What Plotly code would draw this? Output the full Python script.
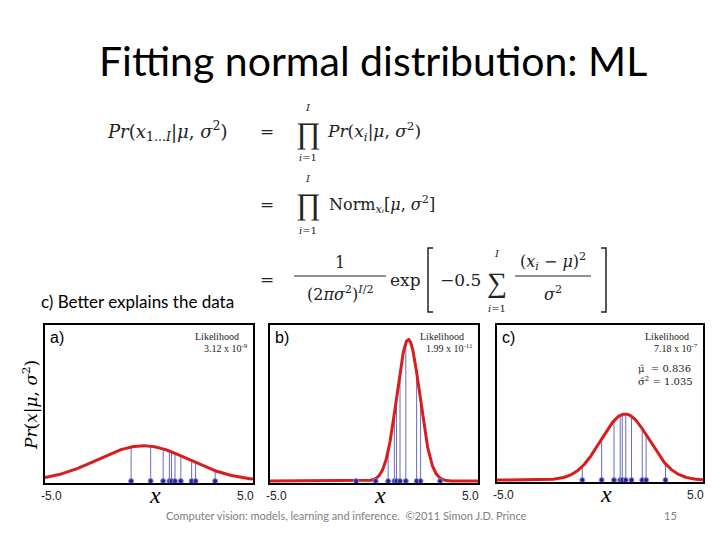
import numpy as np
import plotly.graph_objects as go

# data points (same 10 samples in every panel)
data_x = [-0.86, 0.08, 0.68, 0.98, 1.08, 1.25, 1.53, 2.05, 2.24, 3.18]

# normal curves per panel: a) b) c)
panel_names = ['a)', 'b)', 'c)']
curve_mu = [-0.27, 1.65, 1.22]
curve_sigma = [2.2, 0.55, 1.17]
likelihood_txt = ['3.12 x 10<sup>-9</sup>', '1.99 x 10<sup>-11</sup>', '7.18 x 10<sup>-7</sup>']
x_tick_text = ['-5.0', '5.0']

W, H = 720, 540
SERIF = 'Liberation Serif'
MATH = 'DejaVu Serif'
SANS = 'Liberation Sans'
SLIDE = 'Lato'

# panel pixel boxes (left, right, top, bottom)
boxes = [(45, 253, 325, 483), (270, 478, 325, 483), (497, 703, 325, 482)]


def px(x, y):
    return x / W, 1 - y / H


def pdf(x, mu, s):
    return np.exp(-0.5 * ((x - mu) / s) ** 2) / (np.sqrt(2 * np.pi) * s)


fig = go.Figure()
xs = np.linspace(-5, 5, 501)
annotations = []
shapes = []

for k in range(3):
    ax = '' if k == 0 else str(k + 1)
    xa, ya = 'x' + ax, 'y' + ax
    mu, s = curve_mu[k], curve_sigma[k]

    # stems
    sx, sy = [], []
    for d in data_x:
        sx += [d, d, None]
        sy += [0, pdf(d, mu, s), None]
    fig.add_trace(go.Scatter(x=sx, y=sy, mode='lines', line=dict(color='#6b6bbf', width=1),
                             xaxis=xa, yaxis=ya, showlegend=False, hoverinfo='skip'))
    # curve
    fig.add_trace(go.Scatter(x=xs, y=pdf(xs, mu, s), mode='lines', line=dict(color='#d91c1c', width=3),
                             xaxis=xa, yaxis=ya, showlegend=False))
    # data points
    fig.add_trace(go.Scatter(x=data_x, y=[0] * len(data_x), mode='markers', cliponaxis=False,
                             marker=dict(size=5, color='#24249a', line=dict(color='#8c8cd9', width=1)),
                             xaxis=xa, yaxis=ya, showlegend=False))

    l, r, t, b = boxes[k]
    axstyle = dict(showgrid=False, zeroline=False, showline=True, mirror=True, linecolor='black',
                   linewidth=2, ticks='', showticklabels=False)
    fig.layout['xaxis' + ax] = dict(domain=[l / W, r / W], range=[-5, 5], anchor=ya, **axstyle)
    fig.layout['yaxis' + ax] = dict(domain=[1 - b / H, 1 - t / H], range=[-0.01, 0.80], anchor=xa, **axstyle)

    # tick labels under the panel ends
    annotations.append(dict(x=0, y=0, xref=xa + ' domain', yref=ya + ' domain', text=x_tick_text[0],
                            xanchor='left', yanchor='top', xshift=-6, yshift=-4, showarrow=False,
                            font=dict(family=SANS, size=12, color='#222')))
    annotations.append(dict(x=1, y=0, xref=xa + ' domain', yref=ya + ' domain', text=x_tick_text[1],
                            xanchor='right', yanchor='top', xshift=3, yshift=-4, showarrow=False,
                            font=dict(family=SANS, size=12, color='#222')))
    # x label
    annotations.append(dict(x=0.53, y=0, xref=xa + ' domain', yref=ya + ' domain', text='<i>x</i>',
                            xanchor='center', yanchor='top', yshift=3, showarrow=False,
                            font=dict(family=SERIF, size=24, color='black')))
    # panel name
    annotations.append(dict(x=0, y=1, xref=xa + ' domain', yref=ya + ' domain', text=panel_names[k],
                            xanchor='left', yanchor='top', xshift=3, yshift=-2, showarrow=False,
                            font=dict(family=SANS, size=16, color='black')))
    # likelihood
    annotations.append(dict(x=1, y=1, xref=xa + ' domain', yref=ya + ' domain', text='Likelihood',
                            xanchor='right', yanchor='top', xshift=-12, yshift=-4, showarrow=False,
                            font=dict(family=SERIF, size=10, color='#222')))
    annotations.append(dict(x=1, y=1, xref=xa + ' domain', yref=ya + ' domain', text=likelihood_txt[k],
                            xanchor='right', yanchor='top', xshift=-3, yshift=-15, showarrow=False,
                            font=dict(family=SERIF, size=10, color='#222')))

annotations.append(dict(x=1, y=1, xref='x3 domain', yref='y3 domain',
                        text='μ̂  = 0.836<br>σ̂<sup>2</sup> = 1.035',
                        xanchor='right', yanchor='top', xshift=-8, yshift=-36, showarrow=False, align='left',
                        font=dict(family=MATH, size=10, color='#222')))


def txt(x, y, text, size, family=MATH, anchor='center', color='black', angle=0):
    fx, fy = px(x, y)
    annotations.append(dict(x=fx, y=fy, xref='paper', yref='paper', text=text, xanchor=anchor,
                            yanchor='middle', showarrow=False, textangle=angle,
                            font=dict(family=family, size=size, color=color)))


# title and slide text
txt(373, 60, 'Fitting normal distribution: ML', 41, SLIDE)
txt(39, 301, 'c) Better explains the data', 17, SLIDE, anchor='left')
txt(346, 515, 'Computer vision: models, learning and inference.  ©2011 Simon J.D. Prince', 11, SLIDE, color='#808080')
txt(670, 515, '15', 11, SLIDE, color='#808080')
txt(30, 405, '<i>Pr</i>(<i>x</i>|<i>μ</i>, <i>σ</i><sup>2</sup>)', 17, angle=-90)

# equations
eq = '#222'
txt(105, 131, '<i>Pr</i>(<i>x</i><sub>1...<i>I</i></sub>|<i>μ</i>, <i>σ</i><sup>2</sup>)', 18, anchor='left', color=eq)
for yy in (131, 204, 279):
    txt(267, yy, '=', 17, color=eq)
for yy, top, bot in ((133, 108, 158), (204, 178, 230)):
    txt(308, yy, '∏', 30, SERIF, color=eq)
    txt(308, top, '<i>I</i>', 10, color=eq)
    txt(308, bot, '<i>i</i>=1', 10, color=eq)
txt(325, 131, '<i>Pr</i>(<i>x<sub>i</sub></i>|<i>μ</i>, <i>σ</i><sup>2</sup>)', 17, anchor='left', color=eq)
txt(327, 204, 'Norm<sub><i>xᵢ</i></sub>[<i>μ</i>, <i>σ</i><sup>2</sup>]', 16, anchor='left', color=eq)

txt(340, 262, '1', 16, color=eq)
txt(340, 293, '(2<i>πσ</i><sup>2</sup>)<sup><i>I</i>/2</sup>', 16, color=eq)
txt(405, 280, 'exp', 17, color=eq)
txt(461, 280, '−0.5', 17, color=eq)
txt(497, 282, '∑', 28, SERIF, color=eq)
txt(497, 253, '<i>I</i>', 10, color=eq)
txt(497, 308, '<i>i</i>=1', 10, color=eq)
txt(553, 261, '(<i>x<sub>i</sub></i> − <i>μ</i>)<sup>2</sup>', 16, color=eq)
txt(553, 293, '<i>σ</i><sup>2</sup>', 16, color=eq)

for x0, x1 in ((294, 386), (515, 591)):
    a, b_ = px(x0, 276)
    c, _ = px(x1, 276)
    shapes.append(dict(type='line', xref='paper', yref='paper', x0=a, x1=c, y0=b_, y1=b_,
                       line=dict(color=eq, width=1)))
# brackets
for xb, d in ((428, 1), (606, -1)):
    x0, y0 = px(xb, 248)
    x1, y1 = px(xb + 5 * d, 312)
    shapes.append(dict(type='path', xref='paper', yref='paper',
                       path=f'M {x1} {y0} L {x0} {y0} L {x0} {y1} L {x1} {y1}',
                       line=dict(color=eq, width=1.5)))

fig.update_layout(width=W, height=H, margin=dict(l=0, r=0, t=0, b=0),
                  paper_bgcolor='white', plot_bgcolor='white',
                  annotations=annotations, shapes=shapes)

# drop the default body margin so the figure sits at the page corner
fig.write_html("out.html", config={'displayModeBar': False},
               post_script="document.body.style.margin='0';")
